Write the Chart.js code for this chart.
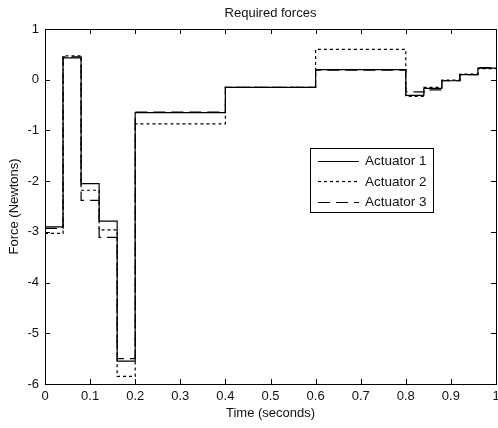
<!DOCTYPE html>
<html>
<head>
<meta charset="utf-8">
<script src="https://cdn.jsdelivr.net/npm/chart.js@4/dist/chart.umd.min.js"></script>
<style>
  body { margin: 0; background: #fff; }
  canvas { display: block; }
</style>
</head>
<body>
<canvas id="myChart" width="498" height="428"></canvas>
<script>
// step start times (zero-order hold), last entry closes the final step
const times = [0, 0.04, 0.08, 0.12, 0.16, 0.2, 0.4, 0.6, 0.8, 0.84, 0.88, 0.92, 0.96, 1.0]
const actuator1 = [-2.9, 0.43, -2.05, -2.79, -5.55, -0.65, -0.15, 0.2, -0.31, -0.17, -0.02, 0.1, 0.23, 0.23]
const actuator2 = [-3.03, 0.47, -2.18, -2.96, -5.85, -0.87, -0.15, 0.6, -0.33, -0.15, -0.01, 0.11, 0.22, 0.22]
const actuator3 = [-2.93, 0.45, -2.38, -3.11, -5.5, -0.64, -0.15, 0.19, -0.24, -0.2, -0.02, 0.1, 0.24, 0.24]
const seriesNames = ['Actuator 1', 'Actuator 2', 'Actuator 3']
const xTicks = [0, 0.1, 0.2, 0.3, 0.4, 0.5, 0.6, 0.7, 0.8, 0.9, 1]
const yTicks = [-6, -5, -4, -3, -2, -1, 0, 1]

const FONT = 'Liberation Sans, Arial, Helvetica, sans-serif'

const toPoints = (vals) => vals.map((v, i) => ({ x: times[i], y: v }))

const dashes = [[], [3, 3], [12, 6]]

// box, inward ticks, titles, legend (matlab look)
const matlabFrame = {
  id: 'matlabFrame',
  afterDatasetsDraw(chart) {
    const { ctx, chartArea: a, scales } = chart
    ctx.save()
    ctx.strokeStyle = '#000'
    ctx.lineWidth = 1
    ctx.setLineDash([])
    ctx.strokeRect(Math.round(a.left) + 0.5, Math.round(a.top) + 0.5, Math.round(a.right - a.left), Math.round(a.bottom - a.top))
    ctx.beginPath()
    xTicks.forEach(t => {
      const px = Math.round(scales.x.getPixelForValue(t)) + 0.5
      ctx.moveTo(px, a.bottom); ctx.lineTo(px, a.bottom - 5)
      ctx.moveTo(px, a.top); ctx.lineTo(px, a.top + 5)
    })
    yTicks.forEach(t => {
      const py = Math.round(scales.y.getPixelForValue(t)) + 0.5
      ctx.moveTo(a.left, py); ctx.lineTo(a.left + 5, py)
      ctx.moveTo(a.right, py); ctx.lineTo(a.right - 5, py)
    })
    ctx.stroke()

    ctx.fillStyle = '#111'
    ctx.font = '13px ' + FONT
    ctx.textAlign = 'center'
    ctx.textBaseline = 'middle'
    ctx.fillText('Required forces', (a.left + a.right) / 2, 13)
    ctx.fillText('Time (seconds)', (a.left + a.right) / 2, 413)
    ctx.save()
    ctx.translate(14, (a.top + a.bottom) / 2)
    ctx.rotate(-Math.PI / 2)
    ctx.fillText('Force (Newtons)', 0, 0)
    ctx.restore()

    // legend
    const lx = 310, ly = 148, lw = 123, lh = 64
    ctx.fillStyle = '#fff'
    ctx.fillRect(lx, ly, lw, lh)
    ctx.strokeStyle = '#000'
    ctx.strokeRect(lx + 0.5, ly + 0.5, lw, lh)
    chart.data.datasets.forEach((ds, i) => {
      const ry = ly + 12.5 + i * 20.5
      ctx.beginPath()
      ctx.setLineDash(ds.borderDash)
      ctx.lineWidth = ds.borderWidth
      ctx.strokeStyle = ds.borderColor
      ctx.moveTo(318, Math.round(ry) + 0.5)
      ctx.lineTo(359, Math.round(ry) + 0.5)
      ctx.stroke()
      ctx.setLineDash([])
      ctx.fillStyle = '#111'
      ctx.font = '13.5px ' + FONT
      ctx.textAlign = 'left'
      ctx.fillText(ds.label, 365, ry + 1)
    })
    ctx.restore()
  }
}

new Chart('myChart', {
  type: 'line',
  data: {
    datasets: [actuator1, actuator2, actuator3].map((vals, i) => ({
      label: seriesNames[i],
      data: toPoints(vals),
      stepped: 'before',
      borderColor: '#000',
      borderWidth: 1.2,
      borderDash: dashes[i],
      pointRadius: 0,
      fill: false
    }))
  },
  options: {
    responsive: false,
    animation: false,
    devicePixelRatio: 1,
    layout: { padding: { left: 0, right: 2, top: 29, bottom: 0 } },
    plugins: { legend: { display: false }, title: { display: false }, tooltip: { enabled: false } },
    scales: {
      x: {
        type: 'linear',
        min: 0,
        max: 1,
        afterBuildTicks: (s) => { s.ticks = xTicks.map(v => ({ value: v })) },
        afterFit: (s) => { s.height = 44; s.paddingLeft = 0; s.paddingRight = 0 },
        grid: { display: false, drawTicks: false },
        border: { display: false },
        ticks: {
          padding: 5,
          autoSkip: false,
          maxRotation: 0,
          color: '#111',
          font: { family: FONT, size: 13 },
          callback: (v) => String(Math.round(v * 10) / 10)
        }
      },
      y: {
        min: -6,
        max: 1,
        afterBuildTicks: (s) => { s.ticks = yTicks.map(v => ({ value: v })) },
        afterFit: (s) => { s.width = 45; s.paddingTop = 0; s.paddingBottom = 0 },
        grid: { display: false, drawTicks: false },
        border: { display: false },
        ticks: {
          padding: 6,
          color: '#111',
          font: { family: FONT, size: 13 },
          callback: (v) => String(v)
        }
      }
    }
  },
  plugins: [matlabFrame]
})
</script>
</body>
</html>
